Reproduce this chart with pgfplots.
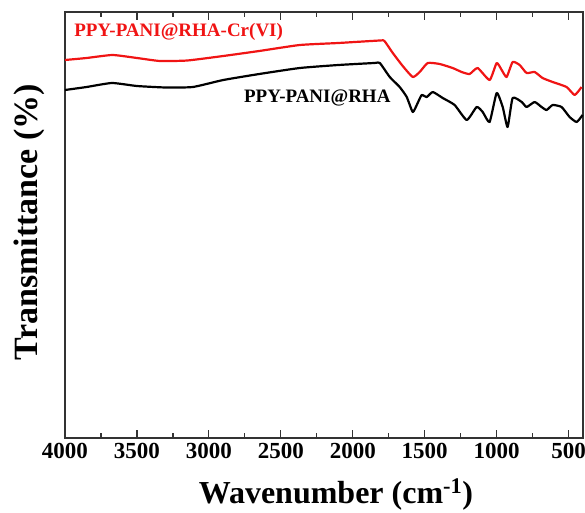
\documentclass[border=0pt]{standalone}
\usepackage{pgfplots}
\pgfplotsset{compat=1.18}
\usepackage{fontspec}
\setmainfont{Liberation Serif}
\definecolor{myred}{RGB}{240,20,20}
\begin{document}
\begin{tikzpicture}
\useasboundingbox (-65pt,-74pt) rectangle (520pt,438pt);
\begin{axis}[
  at={(0,0)}, anchor=south west,
  width=518pt, height=426pt, scale only axis,
  x dir=reverse, xmin=400, xmax=4000, ymin=0, ymax=426,
  xtick={500,1000,...,4000},
  minor x tick num=1,
  ytick=\empty,
  tick align=inside,
  major tick length=8pt, minor tick length=5pt,
  axis line style={line width=1.2pt, black!80},
  every tick/.style={line width=1.2pt, black!80},
  /pgf/number format/assume math mode=true,
  /pgf/number format/1000 sep={},
  xticklabel style={font=\fontsize{23}{23}\selectfont\bfseries, yshift=-2pt},
  xlabel={Wavenumber (cm\textsuperscript{-1})},
  ylabel={Transmittance (\%)},
  xlabel style={font=\fontsize{32}{32}\selectfont\bfseries, at={(axis description cs:0.523,0)}, anchor=base, yshift=-65pt},
  ylabel style={font=\fontsize{34}{34}\selectfont\bfseries, at={(axis description cs:-0.054,0.507)}, anchor=base},
  clip=false,
]
\addplot[myred, line width=2.2pt, line join=round, smooth, tension=0.3] coordinates {
(4000,378) (3850,380) (3670,383) (3500,380) (3340,377) (3150,377.5) (2900,382) (2650,387) (2368,393) (2100,395) (1812,397.5) (1780,397) (1722,385) (1653,372) (1583,361) (1535,366) (1479,375) (1396,374) (1306,370) (1243,366) (1188,364) (1132,370) (1049,358) (1000,375) (965,368) (931,361) (889,376) (840,373) (792,365) (736,366) (681,360) (611,356) (514,351) (458,343) (410,351)
};
\addplot[black, line width=2.2pt, line join=round, smooth, tension=0.3] coordinates {
(4000,348) (3850,351) (3674,355) (3500,352) (3300,350.5) (3111,351) (2900,358) (2650,364) (2368,370) (2100,373) (1850,375) (1812,375) (1743,361) (1674,351) (1625,341) (1583,326) (1549,335) (1521,343) (1486,341) (1444,346) (1375,340) (1292,333) (1208,318) (1139,331) (1097,326) (1049,316) (1000,345) (958,331) (924,311) (889,340) (826,336) (792,331) (736,336) (688,331) (653,328) (611,333) (549,331) (493,321) (444,316) (403,323)
};
\node[anchor=base west, inner sep=0pt, text=myred, font=\fontsize{19}{19}\selectfont\bfseries] at (axis cs:3937,401) {PPY-PANI@RHA-Cr(VI)};
\node[anchor=base west, inner sep=0pt, text=black, font=\fontsize{19}{19}\selectfont\bfseries] at (axis cs:2757,336) {PPY-PANI@RHA};
\end{axis}
\end{tikzpicture}
\end{document}
